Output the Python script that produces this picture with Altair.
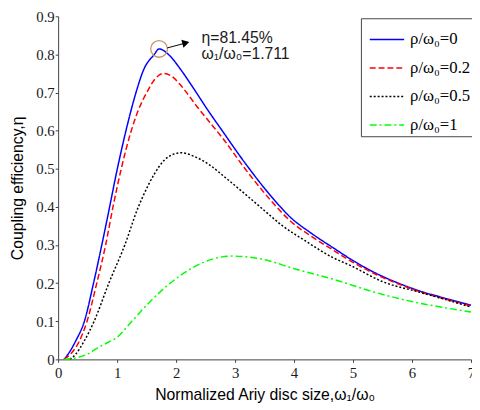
import altair as alt
import pandas as pd

# ---- data ----
series_labels = ["ρ/ω₀=0", "ρ/ω₀=0.2", "ρ/ω₀=0.5", "ρ/ω₀=1"]

x_r0 = [0.1, 0.17, 0.3, 0.445, 0.6, 0.74, 0.86, 0.99, 1.15, 1.32, 1.45, 1.63, 1.711,
        1.89, 2.07, 2.3, 2.52, 2.79, 3.16, 3.6, 3.93, 4.3, 4.66, 4.96, 5.4, 5.8, 6.2, 6.57, 7.0]
y_r0 = [0.0, 0.014, 0.049, 0.1, 0.2, 0.3, 0.39, 0.49, 0.6, 0.7, 0.76, 0.80, 0.8145,
        0.797, 0.762, 0.71, 0.658, 0.598, 0.517, 0.43, 0.374, 0.33, 0.293, 0.263, 0.225, 0.198, 0.176, 0.16, 0.142]

x_r02 = [0.1, 0.21, 0.35, 0.49, 0.655, 0.805, 0.93, 1.07, 1.24, 1.35, 1.52, 1.65, 1.79,
         1.95, 2.1, 2.38, 2.57, 2.79, 3.16, 3.6, 3.93, 4.3, 4.66, 4.96, 5.4, 5.8, 6.2, 6.57, 7.0]
y_r02 = [0.0, 0.014, 0.045, 0.1, 0.2, 0.3, 0.4, 0.5, 0.6, 0.65, 0.705, 0.737, 0.75,
         0.74, 0.715, 0.658, 0.622, 0.58, 0.502, 0.418, 0.364, 0.322, 0.287, 0.258, 0.222, 0.196, 0.174, 0.158, 0.14]

x_r05 = [0.2, 0.3, 0.445, 0.61, 0.86, 1.13, 1.36, 1.43, 1.63, 1.79, 1.95, 2.09, 2.3, 2.55,
         2.85, 3.16, 3.5, 3.79, 4.18, 4.66, 4.96, 5.5, 6.11, 6.5, 7.0]
y_r05 = [0.0, 0.014, 0.049, 0.1, 0.2, 0.3, 0.4, 0.425, 0.486, 0.521, 0.538, 0.542, 0.533, 0.512,
         0.475, 0.435, 0.39, 0.352, 0.312, 0.267, 0.246, 0.204, 0.177, 0.16, 0.137]

x_r1 = [0.1, 0.33, 0.5, 0.67, 0.85, 1.0, 1.25, 1.55, 1.9, 2.24, 2.52, 2.96, 3.2, 3.46,
        4.02, 4.65, 5.35, 6.02, 6.5, 7.0]
y_r1 = [0.0, 0.005, 0.014, 0.03, 0.045, 0.058, 0.1, 0.15, 0.2, 0.237, 0.258, 0.271, 0.269, 0.263,
        0.237, 0.211, 0.177, 0.151, 0.137, 0.124]

line_colors = ["#0000ff", "#ff0000", "#000000", "#00ff00"]
line_dashes = [[1, 0], [6, 3], [2, 2], [7, 3, 2, 3]]

x_ticks = [0, 1, 2, 3, 4, 5, 6, 7]
y_ticks = [0, 0.1, 0.2, 0.3, 0.4, 0.5, 0.6, 0.7, 0.8, 0.9]

peak_x, peak_y = 1.711, 0.8145
ann_line1 = "η=81.45%"
ann_line2 = "ω₁/ω₀=1.711"

# ---- build table ----
rows = []
for lab, xs, ys in zip(series_labels, [x_r0, x_r02, x_r05, x_r1], [y_r0, y_r02, y_r05, y_r1]):
    for a, b in zip(xs, ys):
        rows.append({"series": lab, "x": a, "y": b})
df = pd.DataFrame(rows)

xscale = alt.Scale(domain=[0, 7], nice=False, zero=False)
yscale = alt.Scale(domain=[0, 0.9], nice=False)

x_axis = alt.Axis(values=x_ticks, format="d", title="Normalized Ariy disc size,ω₁/ω₀",
                  labelFlush=False, labelOverlap=False, tickSize=3, labelPadding=3,
                  titleY=41, titleBaseline="alphabetic")
y_axis = alt.Axis(values=y_ticks, format=".1~f", title="Coupling efficiency,η",
                  labelOverlap=False, tickSize=3, labelPadding=1, titleAngle=270,
                  titleX=-36, titleY=174.5, titleBaseline="alphabetic", titleAlign="center")

X = alt.X("x:Q", scale=xscale, axis=x_axis)
Y = alt.Y("y:Q", scale=yscale, axis=y_axis)

legend = alt.Legend(title=None)

lines = alt.Chart(df).mark_line(strokeWidth=1.5, interpolate="monotone").encode(
    x=X, y=Y,
    color=alt.Color("series:N", scale=alt.Scale(domain=series_labels, range=line_colors), legend=legend),
    strokeDash=alt.StrokeDash("series:N", scale=alt.Scale(domain=series_labels, range=line_dashes), legend=legend),
)

peak_df = pd.DataFrame({"x": [peak_x], "y": [peak_y]})
circle = alt.Chart(peak_df).mark_point(shape="circle", size=289, filled=False,
                                       stroke="#c4956a", strokeWidth=1.3, opacity=1).encode(x=X, y=Y)

arrow_df = pd.DataFrame({"x": [1.85], "y": [0.817], "x2": [2.14], "y2": [0.829]})
arrow = alt.Chart(arrow_df).mark_rule(color="black", strokeWidth=1).encode(
    x=X, y=Y, x2="x2:Q", y2="y2:Q")

head_df = pd.DataFrame({"x": [2.165], "y": [0.8305]})
head = alt.Chart(head_df).mark_point(shape="triangle-right", filled=True, size=70, angle=345,
                                     color="black", opacity=1).encode(x=X, y=Y)

txt_df = pd.DataFrame({"x": [2.43, 2.43], "y": [0.842, 0.800], "t": [ann_line1, ann_line2]})
texts = alt.Chart(txt_df).mark_text(align="left", baseline="middle", font="Liberation Sans",
                                    fontSize=16, color="#1a1a1a").encode(x=X, y=Y, text="t:N")

chart = alt.layer(lines, circle, arrow, head, texts).properties(
    width=420, height=349,
    autosize=alt.AutoSizeParams(type="none"),
    padding={"left": 51, "top": 5, "right": 1, "bottom": 46},
).configure_view(stroke=None).configure_axis(
    grid=False,
    domainColor="#404040", tickColor="#404040",
    labelFont="Liberation Serif", labelFontSize=15, labelColor="#1a1a1a",
    titleFont="Liberation Sans", titleFontSize=16, titleFontWeight="normal", titleColor="#000000",
).configure_legend(
    orient="none", legendX=308, legendY=2, padding=3,
    strokeColor="#444444", fillColor="white",
    symbolType="stroke", symbolSize=1225, symbolStrokeWidth=1.5, symbolOffset=5,
    labelFont="Liberation Serif", labelFontSize=17, labelColor="#000000", labelOffset=5,
    rowPadding=2,
)

chart.save("out.html", embed_options={"renderer": "svg", "actions": False})
